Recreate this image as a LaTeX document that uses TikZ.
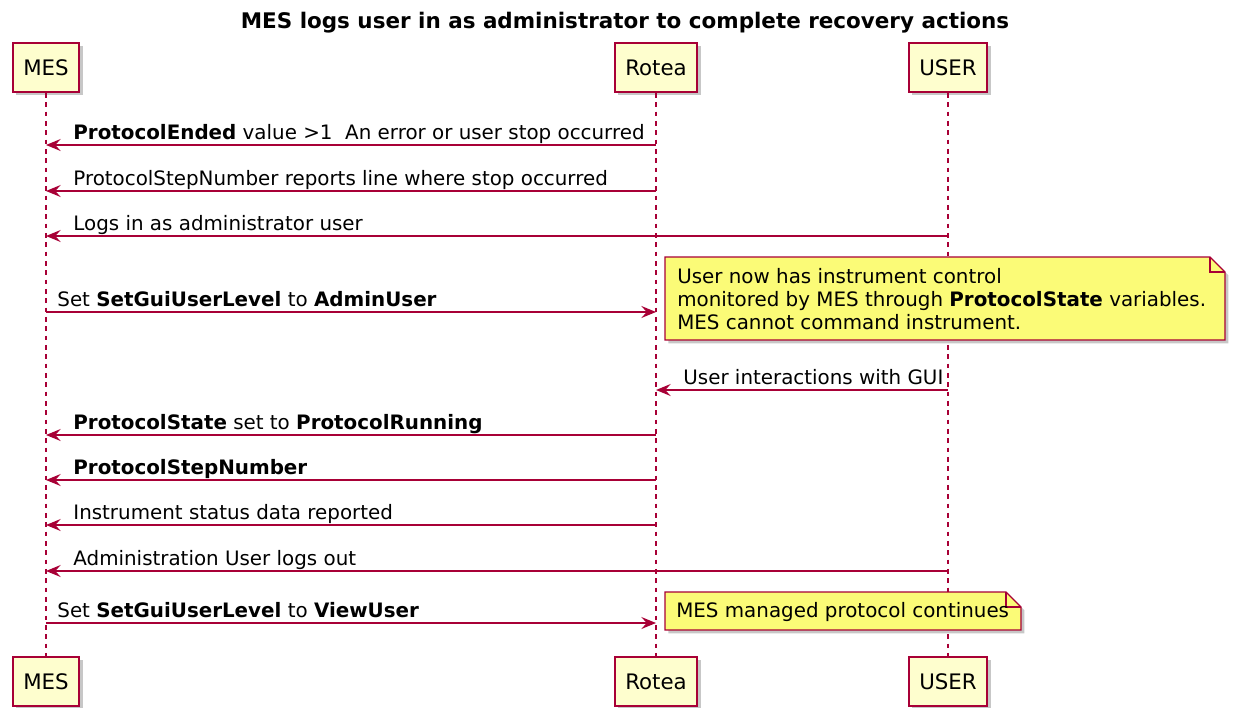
\documentclass[tikz,border=0pt]{standalone}
\usepackage{fontspec}
\setmainfont{DejaVu Sans}
\usetikzlibrary{
    positioning,
    arrows.meta,
    shadows
}
\definecolor{umlred}{HTML}{A80036}
\definecolor{umlbox}{HTML}{FEFECE}
\definecolor{umlnote}{HTML}{FBFB77}
\tikzset{
    >=Stealth,
    umlshadow/.style={
        drop shadow={shadow xshift=2.5pt, shadow yshift=-2.5pt,
            fill=black, opacity=0.22}
    },
    actor/.style={
        draw=umlred,
        fill=umlbox,
        line width=1.4pt,
        minimum height=36.75pt,
        inner xsep=8pt,
        font=\fontsize{16}{19}\selectfont,
        umlshadow
    },
    lifeline/.style={
        draw=umlred,
        line width=0.8pt,
        dash pattern=on 3.5pt off 3.5pt
    },
    msg/.style={
        draw=umlred,
        line width=1.1pt,
        -{Stealth[length=11pt, width=9pt, inset=4pt]}
    },
    back/.style={
        draw=umlred,
        line width=1.1pt,
        {Stealth[length=11pt, width=9pt, inset=4pt]}-
    },
    lbl/.style={
        pos=0, anchor=base west, inner sep=0pt,
        yshift=4.5pt,
        font=\fontsize{14.9}{18}\selectfont
    },
    inlbl/.style={
        lbl, xshift=20pt
    },
    outlbl/.style={
        lbl, xshift=8pt
    },
    notebox/.style={
        draw=umlred,
        fill=umlnote,
        line width=0.9pt,
        umlshadow
    },
    notetext/.style={
        anchor=north west, inner sep=0pt, align=left,
        font=\fontsize{14.9}{17.25}\selectfont
    }
}

\begin{document}
\begin{tikzpicture}[
    x=0.75pt,
    y=-0.75pt
]
    \useasboundingbox (0,0) rectangle (1234,707);

    % Titulo
    \node[anchor=base, inner sep=0pt, font=\fontsize{16.1}{19}\selectfont\bfseries]
        (title) at (625,28) {MES logs user in as administrator to complete recovery actions};

    % Participantes
    \node[actor] (mesTop) at (46,67.5)  {MES};
    \node[actor] (rotTop) at (656,67.5) {Rotea};
    \node[actor] (usrTop) at (948,67.5) {USER};

    \node[actor] (mesBot) at (46,681.5)  {MES};
    \node[actor] (rotBot) at (656,681.5) {Rotea};
    \node[actor] (usrBot) at (948,681.5) {USER};

    % Lineas de vida
    \draw[lifeline] (mesTop) -- (mesBot);
    \draw[lifeline] (rotTop) -- (rotBot);
    \draw[lifeline] (usrTop) -- (usrBot);

    % Fin de protocolo
    \draw[back] (mesTop |- 0,145) -- node[inlbl]
        {\textbf{ProtocolEnded} value >1\ \ An error or user stop occurred} (rotTop |- 0,145);
    \draw[back] (mesTop |- 0,191) -- node[inlbl]
        {ProtocolStepNumber reports line where stop occurred} (rotTop |- 0,191);
    \draw[back] (mesTop |- 0,236) -- node[inlbl]
        {Logs in as administrator user} (usrTop |- 0,236);

    % Modo administrador
    \draw[msg] (mesTop |- 0,312) -- node[outlbl]
        {Set \textbf{SetGuiUserLevel} to \textbf{AdminUser}} (rotTop |- 0,312);

    \draw[notebox] (665,257) -- (1210,257) -- (1225,272) -- (1225,340) -- (665,340) -- cycle;
    \draw[draw=umlred, line width=0.9pt] (1210,257) -- (1210,272) -- (1225,272);
    \node[notetext] (note1) at (677,268) {User now has instrument control\\
        monitored by MES through \textbf{ProtocolState} variables.\\
        MES cannot command instrument.};

    \draw[back] (rotTop |- 0,390) -- node[inlbl]
        {User interactions with GUI} (usrTop |- 0,390);

    % Estado reportado
    \draw[back] (mesTop |- 0,435) -- node[inlbl]
        {\textbf{ProtocolState} set to \textbf{ProtocolRunning}} (rotTop |- 0,435);
    \draw[back] (mesTop |- 0,480) -- node[inlbl]
        {\textbf{ProtocolStepNumber}} (rotTop |- 0,480);
    \draw[back] (mesTop |- 0,525) -- node[inlbl]
        {Instrument status data reported} (rotTop |- 0,525);
    \draw[back] (mesTop |- 0,571) -- node[inlbl]
        {Administration User logs out} (usrTop |- 0,571);

    % Vuelta a usuario de vista
    \draw[msg] (mesTop |- 0,623) -- node[outlbl]
        {Set \textbf{SetGuiUserLevel} to \textbf{ViewUser}} (rotTop |- 0,623);

    \draw[notebox] (665,592) -- (1006,592) -- (1021,607) -- (1021,630) -- (665,630) -- cycle;
    \draw[draw=umlred, line width=0.9pt] (1006,592) -- (1006,607) -- (1021,607);
    \node[notetext] (note2) at (676,602) {MES managed protocol continues};

\end{tikzpicture}
\end{document}
